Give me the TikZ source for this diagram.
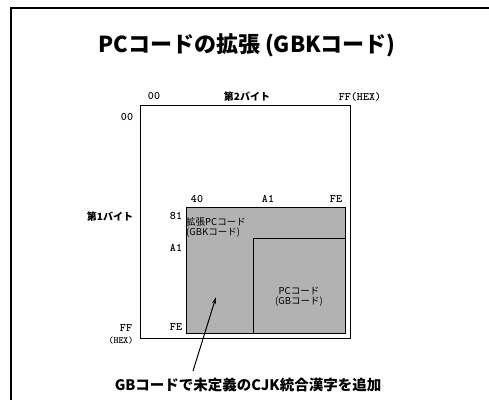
\documentclass[tikz,border=0pt]{standalone}
\usepackage{fontspec}
\newfontfamily\jp{Noto Sans CJK JP}
\usetikzlibrary{arrows.meta}
\tikzset{
  hexlbl/.style={font=\ttfamily\bfseries\fontsize{11.5}{12}\selectfont, inner sep=0pt},
  jplbl/.style={font=\jp\bfseries\fontsize{10}{11}\selectfont, inner sep=0pt},
  inlbl/.style={font=\jp\fontsize{9.5}{10.5}\selectfont, inner sep=0pt, align=left},
  region/.style={draw=black, line width=0.9pt, fill=black!30},
}
\begin{document}
\begin{tikzpicture}[x=1pt,y=-1pt]
\useasboundingbox (0,0) rectangle (489,399);
% outer frame (cut off at right and bottom)
\draw[line width=2pt] (11,402) -- (11,8) -- (492,8);
% title
\node[font=\jp\bfseries\fontsize{22}{24}\selectfont, inner sep=0pt] (title) at (247,45) {PCコードの拡張 (GBKコード)};
% big code space
\node[draw, line width=1.2pt, minimum width=210pt, minimum height=233pt, inner sep=0pt] (space) at (245.7,222) {};
% shaded GBK region
\draw[region] (186,207) rectangle (345.7,333);
\draw[line width=0.9pt] (253,333) -- (253,238) -- (345.7,238);
% labels
\node[hexlbl] (c00) at (154,96) {00};
\node[jplbl] (byte2) at (247,97) {第2バイト};
\node[hexlbl] (cFF) at (360,97) {FF(HEX)};
\node[hexlbl] (r00) at (127,117) {00};
\node[jplbl] (byte1) at (110,217) {第1バイト};
\node[hexlbl] (rFF) at (126,328) {FF};
\node[hexlbl, font=\ttfamily\bfseries\fontsize{9.5}{10}\selectfont] (rHEX) at (121,341) {(HEX)};
\node[hexlbl] (c40) at (197,199) {40};
\node[hexlbl] (cA1) at (268,199) {A1};
\node[hexlbl] (cFE) at (336,199) {FE};
\node[hexlbl] (r81) at (176,216) {81};
\node[hexlbl] (rA1) at (176,248) {A1};
\node[hexlbl] (rFE) at (176,327) {FE};
\node[inlbl, anchor=north west] (gbk) at (186,217) {拡張PCコード\\(GBKコード)};
\node[inlbl, align=center] (gb) at (299,297) {PCコード\\(GBコード)};
% annotation
\node[font=\jp\bfseries\fontsize{14.5}{16}\selectfont, inner sep=0pt] (note) at (248,385) {GBコードで未定義のCJK統合漢字を追加};
\coordinate (arrowstart) at (193,371);
\coordinate (arrowtip) at (216,297);
\draw[line width=1pt, -{Stealth[length=7pt,width=4pt]}] (arrowstart) -- (arrowtip);
\end{tikzpicture}
\end{document}
